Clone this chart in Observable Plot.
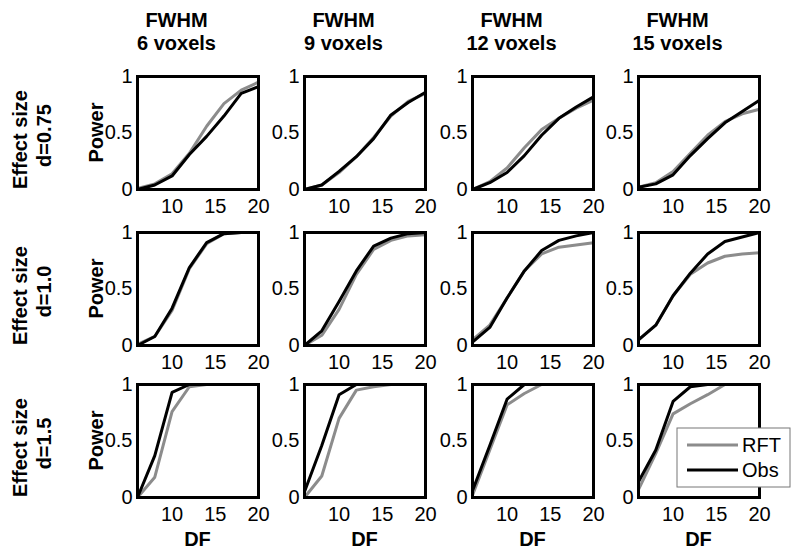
<!DOCTYPE html>
<html><head><meta charset="utf-8">
<script src="https://cdn.jsdelivr.net/npm/d3@7"></script>
<script src="https://cdn.jsdelivr.net/npm/@observablehq/plot@0.6"></script>
<style>
body{margin:0;background:#fff;}
#chart{position:relative;width:800px;height:552px;font-family:"Liberation Sans",Arial,sans-serif;overflow:hidden;}
</style></head>
<body><div id="chart"></div>
<script>
// ---- data ----
const DF = [6, 8, 10, 12, 14, 16, 18, 20];
const fwhmLabels = ["6 voxels", "9 voxels", "12 voxels", "15 voxels"];
const effectLabels = ["d=0.75", "d=1.0", "d=1.5"];
const xTicks = [10, 15, 20];
const yTicks = [0, 0.5, 1];
const seriesNames = ["RFT", "Obs"];

// d = 0.75 (one row per FWHM: 6, 9, 12, 15)
const obsD075 = [
  [0.00, 0.04, 0.12, 0.31, 0.47, 0.65, 0.85, 0.91],
  [0.00, 0.04, 0.16, 0.29, 0.45, 0.66, 0.77, 0.86],
  [0.00, 0.06, 0.15, 0.30, 0.48, 0.63, 0.73, 0.82],
  [0.02, 0.05, 0.13, 0.30, 0.45, 0.59, 0.69, 0.79]
];
const rftD075 = [
  [0.01, 0.05, 0.14, 0.32, 0.56, 0.76, 0.88, 0.95],
  [0.00, 0.04, 0.15, 0.29, 0.46, 0.65, 0.78, 0.85],
  [0.00, 0.07, 0.19, 0.37, 0.53, 0.63, 0.72, 0.79],
  [0.02, 0.06, 0.16, 0.32, 0.48, 0.60, 0.67, 0.71]
];
// d = 1.0
const obsD10 = [
  [0.00, 0.08, 0.33, 0.69, 0.91, 0.99, 1.00, 1.00],
  [0.00, 0.13, 0.39, 0.66, 0.88, 0.95, 0.99, 1.00],
  [0.03, 0.16, 0.42, 0.66, 0.84, 0.93, 0.97, 1.00],
  [0.05, 0.18, 0.44, 0.64, 0.81, 0.92, 0.96, 1.00]
];
const rftD10 = [
  [0.01, 0.08, 0.31, 0.68, 0.90, 0.99, 1.00, 1.00],
  [0.00, 0.09, 0.32, 0.63, 0.85, 0.93, 0.97, 0.98],
  [0.05, 0.18, 0.42, 0.66, 0.81, 0.87, 0.89, 0.91],
  [0.05, 0.18, 0.44, 0.63, 0.73, 0.79, 0.81, 0.82]
];
// d = 1.5
const obsD15 = [
  [0.00, 0.37, 0.93, 1.00, 1.00, 1.00, 1.00, 1.00],
  [0.05, 0.46, 0.91, 1.00, 1.00, 1.00, 1.00, 1.00],
  [0.06, 0.46, 0.87, 1.00, 1.00, 1.00, 1.00, 1.00],
  [0.14, 0.42, 0.85, 0.98, 1.00, 1.00, 1.00, 1.00]
];
const rftD15 = [
  [0.00, 0.18, 0.76, 0.98, 1.00, 1.00, 1.00, 1.00],
  [0.00, 0.19, 0.70, 0.95, 0.98, 1.00, 1.00, 1.00],
  [0.02, 0.42, 0.82, 0.92, 1.00, 1.00, 1.00, 1.00],
  [0.07, 0.39, 0.74, 0.83, 0.91, 1.00, 1.00, 1.00]
];

const obsRows = [obsD075, obsD10, obsD15];
const rftRows = [rftD075, rftD10, rftD15];

// ---- layout ----
const panelLeft = [137, 304, 472, 638];
const panelTop = [76, 232, 384];
const PW = 121, PH = 113;
const ML = 44, MR = 14, MT = 12, MB = 34;
const FONT = "Liberation Sans, Arial, sans-serif";
const GRAY = "#8c8c8c";

const chart = document.getElementById("chart");

function makePanel(obs, rft) {
  const rftData = DF.map((d, i) => ({df: d, v: rft[i]}));
  const obsData = DF.map((d, i) => ({df: d, v: obs[i]}));
  return Plot.plot({
    width: ML + PW + MR,
    height: MT + PH + MB,
    marginLeft: ML, marginRight: MR, marginTop: MT, marginBottom: MB,
    style: {fontSize: "20px", fontFamily: FONT, color: "black", background: "transparent", overflow: "visible"},
    x: {domain: [6, 20], ticks: xTicks, tickSize: 0, tickPadding: 9, label: null},
    y: {domain: [0, 1], ticks: yTicks, tickFormat: d => String(d), tickSize: 0, tickPadding: 5, label: null},
    marks: [
      Plot.line(rftData, {x: "df", y: "v", stroke: GRAY, strokeWidth: 3}),
      Plot.line(obsData, {x: "df", y: "v", stroke: "black", strokeWidth: 3}),
      Plot.frame({stroke: "black", strokeWidth: 3})
    ]
  });
}

for (let r = 0; r < 3; r++) {
  for (let c = 0; c < 4; c++) {
    const svg = makePanel(obsRows[r][c], rftRows[r][c]);
    svg.style.position = "absolute";
    svg.style.left = (panelLeft[c] - ML) + "px";
    svg.style.top = (panelTop[r] - MT) + "px";
    chart.appendChild(svg);
  }
}

// ---- overlay texts & legend ----
const ov = d3.create("svg")
  .attr("width", 800).attr("height", 552)
  .style("position", "absolute").style("left", "0px").style("top", "0px")
  .style("pointer-events", "none")
  .attr("font-family", FONT).attr("font-weight", "bold").attr("font-size", 20);

fwhmLabels.forEach((lab, c) => {
  const cx = panelLeft[c] + PW / 2;
  ov.append("text").attr("x", cx - 21).attr("y", 27).attr("text-anchor", "middle").text("FWHM");
  ov.append("text").attr("x", cx - 21).attr("y", 50).attr("text-anchor", "middle").text(lab);
  ov.append("text").attr("x", cx).attr("y", 546).attr("text-anchor", "middle").text("DF");
});

effectLabels.forEach((lab, r) => {
  const cy = panelTop[r] + PH / 2;
  ov.append("text").attr("transform", `translate(27,${cy + 7}) rotate(-90)`).attr("text-anchor", "middle").text("Effect size");
  ov.append("text").attr("transform", `translate(51,${cy + 3}) rotate(-90)`).attr("text-anchor", "middle").text(lab);
  ov.append("text").attr("transform", `translate(103,${cy}) rotate(-90)`).attr("text-anchor", "middle").text("Power");
});

// legend
const lg = ov.append("g");
lg.append("rect").attr("x", 677).attr("y", 428).attr("width", 113).attr("height", 59)
  .attr("fill", "white").attr("stroke", "#777").attr("stroke-width", 1);
const legendColors = [GRAY, "black"];
seriesNames.forEach((name, i) => {
  const y = 445 + i * 25;
  lg.append("line").attr("x1", 687).attr("x2", 738).attr("y1", y).attr("y2", y)
    .attr("stroke", legendColors[i]).attr("stroke-width", 3);
  lg.append("text").attr("x", 742).attr("y", y + 7).attr("font-weight", "normal").text(name);
});

chart.appendChild(ov.node());
</script>
</body></html>
